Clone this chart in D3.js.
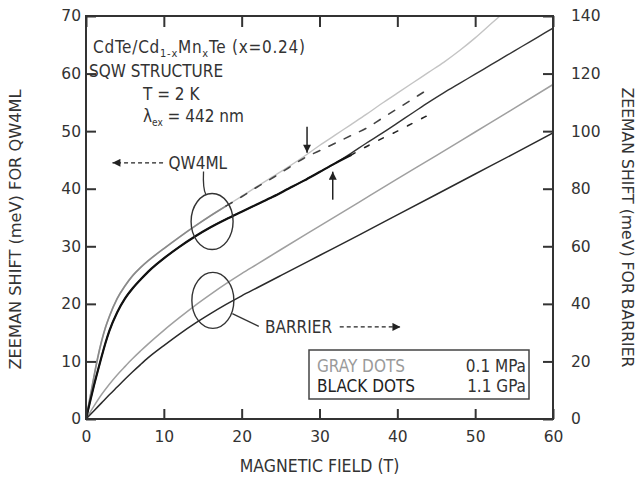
<!DOCTYPE html>
<html>
<head>
<meta charset="utf-8">
<script src="https://cdn.jsdelivr.net/npm/d3@7/dist/d3.min.js"></script>
<style>
  html, body { margin: 0; padding: 0; background: #fff; }
  svg { display: block; }
  text { font-family: "DejaVu Sans Condensed", "DejaVu Sans", sans-serif; fill: #333; }
</style>
</head>
<body>
<svg id="chart" width="637" height="483"></svg>
<script>
// Magnetic field (T) sample points and Zeeman shifts (meV)

// QW4ML, 0.1 MPa (gray dots) – left axis
const qwGrayField = [0, 0.5, 1, 1.5, 2, 2.5, 3, 4, 5, 6, 7, 8, 10, 12, 14, 16, 18, 20, 22, 24, 26, 28, 30, 32, 34, 36, 38, 40, 42, 44];
const qwGrayShift = [0, 3.6, 7.2, 10.6, 13.5, 15.9, 17.8, 20.9, 23.1, 24.9, 26.3, 27.5, 29.6, 31.6, 33.5, 35.3, 37.0, 38.6, 40.3, 41.9, 43.6, 45.3, 46.6, 47.9, 49.2, 50.5, 52.2, 53.9, 55.6, 57.3];

// QW4ML, 0.1 MPa model curve – left axis
const qwGrayFitField = [0, 0.5, 1, 1.5, 2, 2.5, 3, 4, 5, 6, 7, 8, 10, 12, 14, 16, 18, 20, 22, 24, 26, 28, 30, 32, 34, 36, 38, 40, 42, 44, 46, 48, 50, 52, 54];
const qwGrayFitShift = [0, 3.6, 7.2, 10.6, 13.5, 15.9, 17.8, 20.9, 23.1, 24.9, 26.3, 27.5, 29.6, 31.6, 33.5, 35.3, 37.0, 38.7, 40.4, 42.1, 43.8, 45.6, 47.5, 49.3, 51.1, 52.9, 54.8, 56.6, 58.4, 60.2, 62.0, 64.0, 66.2, 68.6, 71.0];

// QW4ML, 1.1 GPa (black dots) – left axis
const qwBlackField = [0, 0.5, 1, 1.5, 2, 2.5, 3, 4, 5, 6, 7, 8, 9, 10, 12, 14, 16, 18, 20, 22, 24, 26, 28, 30, 32, 34, 36, 38, 40, 42, 44];
const qwBlackShift = [0, 2.9, 5.7, 8.3, 10.8, 13.2, 15.3, 18.5, 20.9, 22.7, 24.2, 25.6, 26.8, 27.9, 29.9, 31.7, 33.3, 34.7, 36.0, 37.3, 38.6, 40.0, 41.4, 42.9, 44.4, 45.8, 47.3, 48.7, 50.0, 51.4, 52.8];

// QW4ML, 1.1 GPa model curve – left axis
const qwBlackFitField = [0, 0.5, 1, 1.5, 2, 2.5, 3, 4, 5, 6, 7, 8, 9, 10, 12, 14, 16, 18, 20, 22, 24, 26, 28, 30, 32, 34, 36, 38, 40, 42, 44, 46, 48, 50, 52, 54, 56, 58, 60];
const qwBlackFitShift = [0, 2.9, 5.7, 8.3, 10.8, 13.2, 15.3, 18.5, 20.9, 22.7, 24.2, 25.6, 26.8, 27.9, 29.9, 31.7, 33.3, 34.7, 36.0, 37.3, 38.6, 40.0, 41.4, 42.9, 44.4, 46.1, 47.9, 49.6, 51.4, 53.2, 55.0, 56.7, 58.3, 59.9, 61.5, 63.1, 64.7, 66.3, 67.9];

// Barrier, right axis
const barrierField = [0, 1, 2, 3, 4, 5, 6, 7, 8, 10, 12, 14, 16, 18, 20, 22, 25, 30, 35, 40, 45, 50, 55, 60];
const barrierGrayShift  = [0, 4.4, 8.5, 12.1, 15.3, 18.2, 21.0, 23.6, 26.1, 30.8, 35.2, 39.4, 43.3, 47.0, 50.5, 53.8, 58.8, 67.0, 75.2, 83.4, 91.5, 99.7, 107.9, 116.2];
const barrierBlackShift = [0, 2.8, 5.6, 8.4, 11.1, 13.8, 16.4, 18.9, 21.3, 25.5, 29.5, 33.2, 36.6, 39.8, 42.8, 45.6, 49.8, 56.8, 63.8, 70.9, 78.0, 85.1, 92.2, 99.4];

// Field where the dot series thin out
const qwGraySparseFrom = 18;
const qwBlackSparseFrom = 33;

// Axis ticks
const fieldTicks = [0, 10, 20, 30, 40, 50, 60];
const qwTicks = [0, 10, 20, 30, 40, 50, 60, 70];
const barrierTicks = [0, 20, 40, 60, 80, 100, 120, 140];

const legendRows = [
  { name: "GRAY DOTS", value: "0.1 MPa", color: "#9a9a9a" },
  { name: "BLACK DOTS", value: "1.1 GPa", color: "#222" }
];

const svg = d3.select("#chart");
const plotLeft = 86, plotRight = 553, plotTop = 16, plotBottom = 419;

const x = d3.scaleLinear().domain([0, 60]).range([plotLeft, plotRight]);
const yL = d3.scaleLinear().domain([0, 70]).range([plotBottom, plotTop]);
const yR = d3.scaleLinear().domain([0, 140]).range([plotBottom, plotTop]);

const defs = svg.append("defs");
defs.append("clipPath").attr("id", "plot")
  .append("rect").attr("x", plotLeft).attr("y", plotTop)
  .attr("width", plotRight - plotLeft).attr("height", plotBottom - plotTop);
defs.append("marker").attr("id", "head").attr("viewBox", "0 0 10 10")
  .attr("refX", 10).attr("refY", 5).attr("markerWidth", 9).attr("markerHeight", 8)
  .attr("markerUnits", "userSpaceOnUse").attr("orient", "auto")
  .append("path").attr("d", "M0,0 L10,5 L0,10 z").attr("fill", "#222");

const zip = (xs, ys) => xs.map((b, i) => [b, ys[i]]);

// Curves
const plot = svg.append("g").attr("clip-path", "url(#plot)");
const lineL = d3.line().x(d => x(d[0])).y(d => yL(d[1])).curve(d3.curveMonotoneX);
const lineR = d3.line().x(d => x(d[0])).y(d => yR(d[1])).curve(d3.curveMonotoneX);

function drawL(data, color, width, dash) {
  plot.append("path").datum(data).attr("d", lineL)
    .attr("fill", "none").attr("stroke", color).attr("stroke-width", width)
    .attr("stroke-dasharray", dash || null).attr("stroke-linecap", "round");
}
function drawR(data, color, width) {
  plot.append("path").datum(data).attr("d", lineR)
    .attr("fill", "none").attr("stroke", color).attr("stroke-width", width);
}

drawR(zip(barrierField, barrierGrayShift), "#a0a0a0", 1.5);
drawR(zip(barrierField, barrierBlackShift), "#2a2a2a", 1.5);

drawL(zip(qwGrayFitField, qwGrayFitShift), "#c4c4c4", 1.4);
drawL(zip(qwBlackFitField, qwBlackFitShift), "#333", 1.4);

const grayPts = zip(qwGrayField, qwGrayShift);
drawL(grayPts.filter(d => d[0] <= qwGraySparseFrom), "#8a8a8a", 1.7);
drawL(grayPts.filter(d => d[0] >= qwGraySparseFrom), "#444", 1.6, "7,10");

const blackPts = zip(qwBlackField, qwBlackShift);
drawL(blackPts.filter(d => d[0] <= qwBlackSparseFrom + 1), "#111", 2.2);
drawL(blackPts.filter(d => d[0] >= qwBlackSparseFrom), "#222", 1.6, "5,11");

// Frame and axes
svg.append("rect").attr("x", plotLeft).attr("y", plotTop)
  .attr("width", plotRight - plotLeft).attr("height", plotBottom - plotTop)
  .attr("fill", "none").attr("stroke", "#333").attr("stroke-width", 2);

function styleAxis(g) {
  g.select(".domain").remove();
  g.selectAll(".tick line").attr("stroke", "#333").attr("stroke-width", 2);
  g.selectAll(".tick text").attr("fill", "#444")
    .style("font-family", "'DejaVu Sans', sans-serif").style("font-size", "15.5px");
}

svg.append("g").attr("transform", `translate(0,${plotBottom})`)
  .call(d3.axisBottom(x).tickValues(fieldTicks).tickFormat(d3.format("d")).tickSize(-10).tickPadding(12))
  .call(styleAxis);
svg.append("g").attr("transform", `translate(0,${plotTop})`)
  .call(d3.axisTop(x).tickValues(fieldTicks).tickFormat("").tickSize(-11))
  .call(styleAxis);
svg.append("g").attr("transform", `translate(${plotLeft},0)`)
  .call(d3.axisLeft(yL).tickValues(qwTicks).tickFormat(d3.format("d")).tickSize(-10).tickPadding(5))
  .call(styleAxis);
svg.append("g").attr("transform", `translate(${plotRight},0)`)
  .call(d3.axisRight(yR).tickValues(barrierTicks).tickFormat(d3.format("d")).tickSize(-10).tickPadding(18))
  .call(styleAxis);

// Axis titles
svg.append("text").attr("x", x(30)).attr("y", 472).attr("text-anchor", "middle")
  .style("font-size", "17.5px").text("MAGNETIC FIELD (T)");
svg.append("text").attr("transform", `translate(21,${(plotTop + plotBottom) / 2 + 12}) rotate(-90)`)
  .attr("text-anchor", "middle").style("font-size", "16px")
  .attr("textLength", 280).attr("lengthAdjust", "spacingAndGlyphs")
  .text("ZEEMAN SHIFT (meV) FOR QW4ML");
svg.append("text").attr("transform", `translate(622,${(plotTop + plotBottom) / 2 + 10}) rotate(90)`)
  .attr("text-anchor", "middle").style("font-size", "16px")
  .attr("textLength", 280).attr("lengthAdjust", "spacingAndGlyphs")
  .text("ZEEMAN SHIFT (meV) FOR BARRIER");

// Sample description
const info = svg.append("g").style("font-size", "17px");
const t1 = info.append("text").attr("x", 93).attr("y", 53)
  .attr("textLength", 212).attr("lengthAdjust", "spacing");
t1.append("tspan").text("CdTe/Cd");
t1.append("tspan").attr("dy", 4).style("font-size", "11px").text("1-x");
t1.append("tspan").attr("dy", -4).text("Mn");
t1.append("tspan").attr("dy", 4).style("font-size", "11px").text("x");
t1.append("tspan").attr("dy", -4).text("Te (x=0.24)");
info.append("text").attr("x", 89).attr("y", 77).text("SQW STRUCTURE");
info.append("text").attr("x", 143).attr("y", 100).text("T = 2 K");
const t4 = info.append("text").attr("x", 143).attr("y", 122);
t4.append("tspan").text("λ");
t4.append("tspan").attr("dy", 4).style("font-size", "10px").text("ex");
t4.append("tspan").attr("dy", -4).text(" = 442 nm");

// QW4ML callout
const qwLabelE = 44.5;
svg.append("line").attr("x1", x(9.9)).attr("x2", x(3.4)).attr("y1", yL(qwLabelE)).attr("y2", yL(qwLabelE))
  .attr("stroke", "#222").attr("stroke-width", 1.3).attr("stroke-dasharray", "4,3").attr("marker-end", "url(#head)");
svg.append("text").attr("x", x(10.6)).attr("y", yL(qwLabelE) + 6).style("font-size", "17px").text("QW4ML");
svg.append("path").attr("d", `M${x(15.1)},${yL(43)} Q${x(15.0)},${yL(40)} ${x(15.4)},${yL(39)}`)
  .attr("fill", "none").attr("stroke", "#333").attr("stroke-width", 1.3);
svg.append("ellipse").attr("cx", x(16.2)).attr("cy", yL(34.3)).attr("rx", 21).attr("ry", 28)
  .attr("fill", "none").attr("stroke", "#333").attr("stroke-width", 1.4);

// Barrier callout
const barLabelE = 16;
svg.append("ellipse").attr("cx", x(16.3)).attr("cy", yL(20.6)).attr("rx", 21).attr("ry", 28)
  .attr("fill", "none").attr("stroke", "#333").attr("stroke-width", 1.4);
svg.append("line").attr("x1", x(18.8)).attr("y1", yL(18.3)).attr("x2", x(22.2)).attr("y2", yL(16.1))
  .attr("stroke", "#333").attr("stroke-width", 1.3);
svg.append("text").attr("x", x(23)).attr("y", yL(barLabelE) + 6).style("font-size", "17px").text("BARRIER");
svg.append("line").attr("x1", x(32.6)).attr("x2", x(40.4)).attr("y1", yL(barLabelE)).attr("y2", yL(barLabelE))
  .attr("stroke", "#222").attr("stroke-width", 1.3).attr("stroke-dasharray", "4,3").attr("marker-end", "url(#head)");

// Arrows marking the kink in the QW4ML shifts
const grayAt = d3.scaleLinear().domain(qwGrayField).range(qwGrayShift);
const blackAt = d3.scaleLinear().domain(qwBlackField).range(qwBlackShift);
const downB = 28.4, upB = 31.7;
svg.append("line").attr("x1", x(downB)).attr("x2", x(downB))
  .attr("y1", yL(grayAt(downB)) - 30).attr("y2", yL(grayAt(downB)) - 4)
  .attr("stroke", "#222").attr("stroke-width", 1.5).attr("marker-end", "url(#head)");
svg.append("line").attr("x1", x(upB)).attr("x2", x(upB))
  .attr("y1", yL(blackAt(upB)) + 35).attr("y2", yL(blackAt(upB)) + 7)
  .attr("stroke", "#222").attr("stroke-width", 1.5).attr("marker-end", "url(#head)");

// Legend
const lg = svg.append("g");
lg.append("rect").attr("x", 309).attr("y", 350).attr("width", 220).attr("height", 49)
  .attr("fill", "#fff").attr("stroke", "#444").attr("stroke-width", 1.5);
legendRows.forEach((r, i) => {
  lg.append("text").attr("x", 317).attr("y", 372 + i * 20).style("font-size", "17px")
    .style("fill", r.color).text(r.name);
  lg.append("text").attr("x", 526).attr("y", 372 + i * 20).attr("text-anchor", "end")
    .style("font-size", "17px").style("fill", "#333").text(r.value);
});
</script>
</body>
</html>
